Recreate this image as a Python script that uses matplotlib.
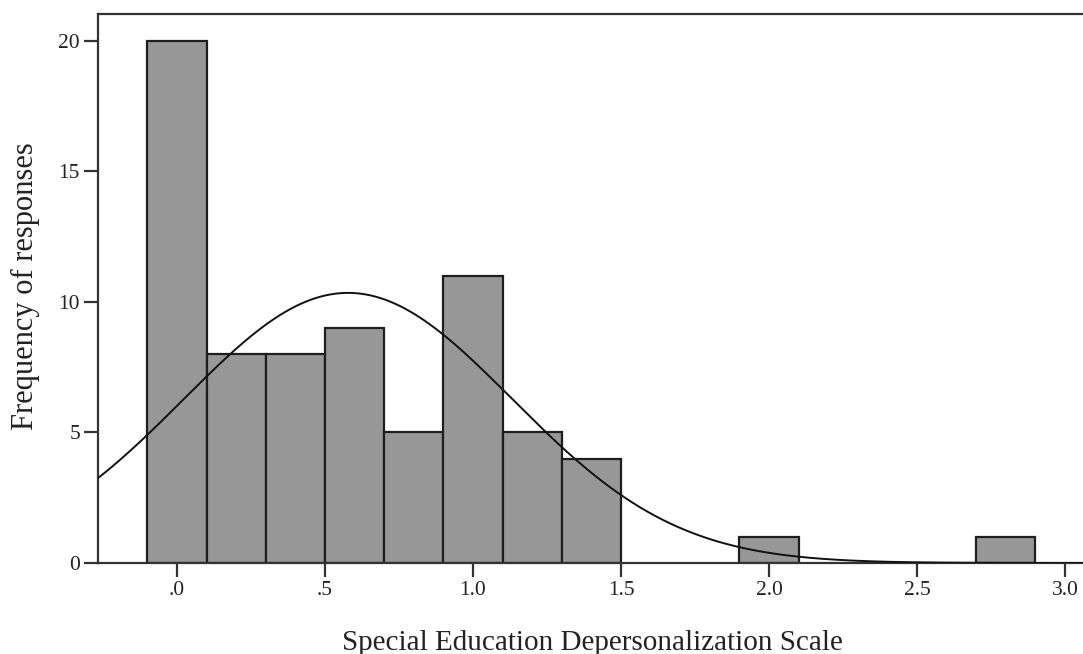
import numpy as np
import matplotlib
matplotlib.use('Agg')
import matplotlib.pyplot as plt

# histogram bins (centres) and counts
bin_centers = [0.0, 0.2, 0.4, 0.6, 0.8, 1.0, 1.2, 1.4, 2.0, 2.8]
counts = [20, 8, 8, 9, 5, 11, 5, 4, 1, 1]
bin_width = 0.2

x_ticks = [0.0, 0.5, 1.0, 1.5, 2.0, 2.5, 3.0]
x_ticklabels = ['.0', '.5', '1.0', '1.5', '2.0', '2.5', '3.0']
y_ticks = [0, 5, 10, 15, 20]

plt.rcParams['font.family'] = ['Liberation Serif', 'DejaVu Serif']

fig = plt.figure(figsize=(10.83, 6.54), dpi=100)
ax = fig.add_axes([98 / 1083, 1 - 563 / 654, 985 / 1083, 549 / 654])

ax.bar(bin_centers, counts, width=bin_width, color='#979797',
       edgecolor='#1e1e1e', linewidth=1.6, zorder=2)

# normal curve from the grouped data
c = np.array(bin_centers)
n = np.array(counts)
N = n.sum()
mean = (c * n).sum() / N
sd = np.sqrt(((c - mean) ** 2 * n).sum() / (N - 1))
xs = np.linspace(-0.3, 3.1, 400)
ys = N * bin_width / (sd * np.sqrt(2 * np.pi)) * np.exp(-0.5 * ((xs - mean) / sd) ** 2)
ax.plot(xs, ys, color='#111111', linewidth=1.4, zorder=3)

ax.set_xlim(-0.267, 3.061)
ax.set_ylim(0, 21.03)

ax.set_xticks(x_ticks)
ax.set_xticklabels(x_ticklabels)
ax.set_yticks(y_ticks)

for side in ['left', 'bottom', 'top']:
    ax.spines[side].set_linewidth(1.6)
    ax.spines[side].set_color('#333333')
ax.spines['right'].set_visible(False)

ax.tick_params(direction='out', length=10, width=1.6, color='#333333',
               labelsize=15.5, labelcolor='#222222', pad=3)

ax.set_xlabel('Special Education Depersonalization Scale', fontsize=21, color='#222222')
ax.set_ylabel('Frequency of responses', fontsize=22, color='#222222')
ax.xaxis.set_label_coords((592 - 98) / 985, -(630 - 563) / 549)
ax.yaxis.set_label_coords(-(98 - 40) / 985, (563 - 286) / 549)

fig.savefig('out.png', dpi=100)
